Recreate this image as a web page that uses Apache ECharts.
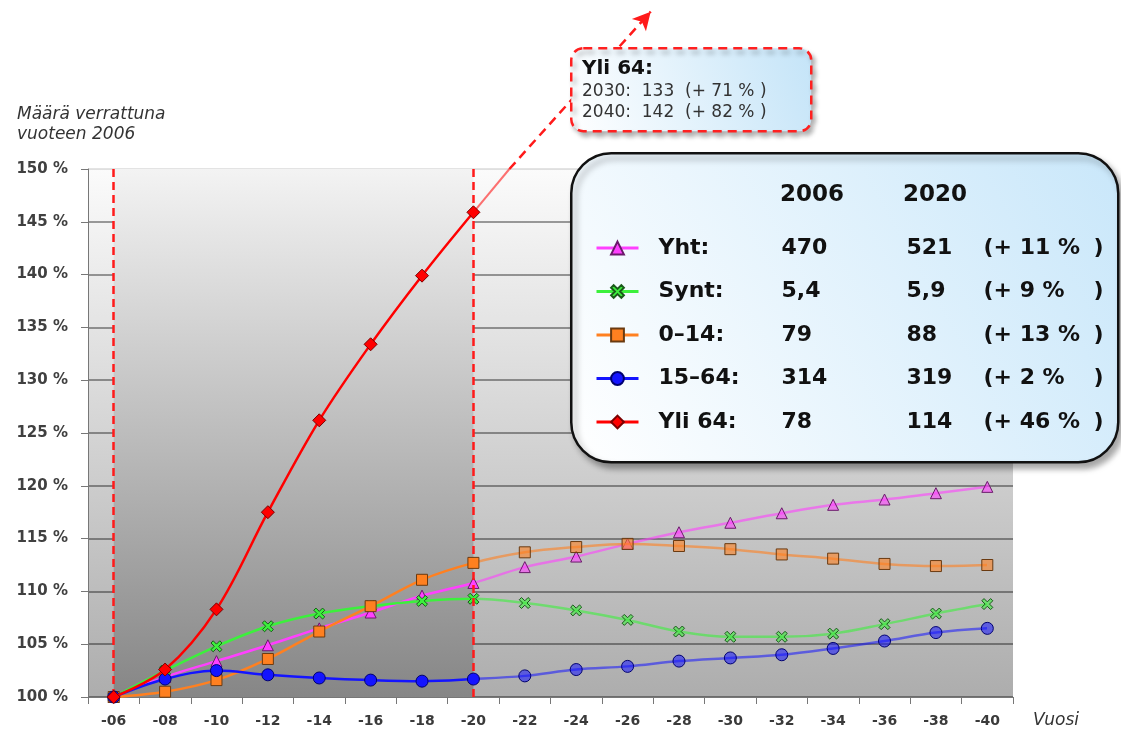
<!DOCTYPE html>
<html><head><meta charset="utf-8">
<script src="https://cdn.jsdelivr.net/npm/echarts@6/dist/echarts.min.js"></script>
<style>html,body{margin:0;padding:0;background:#fff}#c{width:1121px;height:733px}</style>
</head><body><div id="c"></div>
<script>
// ---- data ----
const categories = ['-06','-08','-10','-12','-14','-16','-18','-20','-22','-24','-26','-28','-30','-32','-34','-36','-38','-40'];
const seriesNames = ['Yht:', 'Synt:', '0\u201314:', '15\u201364:', 'Yli 64:'];
const yht       = [100, 101.9, 103.4, 104.9, 106.5, 108.0, 109.6, 110.8, 112.3, 113.3, 114.5, 115.6, 116.5, 117.4, 118.2, 118.7, 119.3, 119.9];
const synt      = [100, 102.5, 104.8, 106.7, 107.9, 108.6, 109.1, 109.3, 108.9, 108.2, 107.3, 106.2, 105.7, 105.7, 106.0, 106.9, 107.9, 108.8];
const age0to14  = [100, 100.5, 101.6, 103.6, 106.2, 108.6, 111.1, 112.7, 113.7, 114.2, 114.5, 114.3, 114.0, 113.5, 113.1, 112.6, 112.4, 112.5];
const age15to64 = [100, 101.7, 102.5, 102.1, 101.8, 101.6, 101.5, 101.7, 102.0, 102.6, 102.9, 103.4, 103.7, 104.0, 104.6, 105.3, 106.1, 106.5];
const over64    = [100, 102.6, 108.3, 117.5, 126.2, 133.4, 139.9, 145.9];
const yTickLabels = ['100 %','105 %','110 %','115 %','120 %','125 %','130 %','135 %','140 %','145 %','150 %'];
const histStart = '-06', histEnd = '-20';
const lastHistIndex = 7;
const headerYears = ['2006', '2020'];
const values2006 = ['470', '5,4', '79', '314', '78'];
const values2020 = ['521', '5,9', '88', '319', '114'];
const changePct  = ['11', '9', '13', '2', '46'];
const noteTitle = 'Yli 64:';
const noteLines = ['2030:  133  (+ 71 % )', '2040:  142  (+ 82 % )'];
// over-64 trend continuation (x in years since 2000, value in %)
const arrowFaded  = [[20, 145.9], [21.4, 150]];
const arrowDashed = [[21.4, 150], [26.9, 164.9]];

// ---- styles ----
const FONT = 'DejaVu Sans';
const full  = ['#ff40ff', '#3cf03c', '#ff8020', '#1414ff', '#ff0000'];
const faded = ['rgba(255,64,255,0.6)', 'rgba(60,240,60,0.6)', 'rgba(255,128,32,0.6)', 'rgba(20,20,255,0.55)'];
const borders = ['#6a1a6a', '#1a5a1a', '#6a3a10', '#000070', '#7a0000'];
const xPath = 'path://M2,0 L5,3 L8,0 L10,2 L7,5 L10,8 L8,10 L5,7 L2,10 L0,8 L3,5 L0,2 Z';
const symbols = ['triangle', xPath, 'rect', 'circle', 'diamond'];
const symSizes = [11, 11, 11, 12, 13];
const dataSets = [yht, synt, age0to14, age15to64, over64];

const chart = echarts.init(document.getElementById('c'));

const mainSeries = dataSets.map((d, i) => ({
  name: seriesNames[i], type: 'line', data: d, smooth: 0.35,
  symbol: symbols[i], symbolSize: symSizes[i], showSymbol: true,
  z: 3 + i,
  lineStyle: i === 4 ? { width: 2.5, color: full[4] } : { width: 2.5 },
  itemStyle: { color: full[i], borderColor: borders[i], borderWidth: 1 },
  emphasis: { disabled: true }
}));

const bold = { fontFamily: FONT, fontWeight: 'bold', fontSize: 22, color: '#111', lineHeight: 26 };

const option = {
  animation: false,
  color: full,
  textStyle: { fontFamily: FONT },
  title: {
    text: 'Määrä verrattuna\nvuoteen 2006', left: 12, top: 100,
    textStyle: { fontFamily: FONT, fontStyle: 'italic', fontWeight: 'normal', fontSize: 17, color: '#333', lineHeight: 20 }
  },
  grid: {
    left: 88, right: 108, top: 169, bottom: 36, show: true, borderWidth: 0,
    backgroundColor: { type: 'linear', x: 0, y: 0, x2: 0, y2: 1,
      colorStops: [{ offset: 0, color: '#fbfbfb' }, { offset: 1, color: '#adadad' }] }
  },
  xAxis: [{
    type: 'category', data: categories, boundaryGap: true,
    name: 'Vuosi', nameLocation: 'end', nameGap: 20,
    nameTextStyle: { fontFamily: FONT, fontStyle: 'italic', fontSize: 17, color: '#333', verticalAlign: 'top', padding: [15, 0, 0, 0] },
    axisLine: { show: true, lineStyle: { color: '#777', width: 1 } },
    axisTick: { show: true, length: 7, lineStyle: { color: '#777' } },
    axisLabel: { margin: 17, fontFamily: FONT, fontWeight: 'bold', fontSize: 14, color: '#3a3a3a' },
    splitLine: { show: false }
  }, {
    type: 'value', min: 5, max: 41, show: false
  }],
  yAxis: {
    type: 'value', min: 100, max: 150, interval: 5,
    axisLine: { show: true, lineStyle: { color: '#777', width: 1 } },
    axisTick: { show: true, length: 7, lineStyle: { color: '#777' } },
    axisLabel: { margin: 20, fontFamily: FONT, fontWeight: 'bold', fontSize: 15, color: '#404040',
      formatter: (v) => yTickLabels[Math.round((v - 100) / 5)] },
    splitLine: { show: true, lineStyle: { width: 1.5,
      color: ['rgba(0,0,0,0.5)','rgba(0,0,0,0.5)','rgba(0,0,0,0.5)','rgba(0,0,0,0.5)','rgba(0,0,0,0.5)','rgba(0,0,0,0.5)','rgba(0,0,0,0.5)','rgba(0,0,0,0.5)','rgba(0,0,0,0.5)','rgba(0,0,0,0.5)','rgba(0,0,0,0.15)'] } }
  },
  visualMap: [0, 1, 2, 3].map(i => ({
    type: 'piecewise', show: false, seriesIndex: i, dimension: 0,
    pieces: [{ gte: 0, lte: lastHistIndex, color: full[i] }, { gt: lastHistIndex, lte: categories.length - 1, color: faded[i] }]
  })),
  legend: {
    data: seriesNames, orient: 'vertical', left: 595, top: 237, padding: 0,
    itemGap: 21.5, itemWidth: 42, itemHeight: 16, z: 200, selectedMode: false,
    lineStyle: { width: 3 },
    formatter: (name) => {
      const i = seriesNames.indexOf(name);
      return '{n|' + name + '}{a|' + values2006[i] + '}{b|' + values2020[i] + '}{p|(+ ' + changePct[i] + ' %}{q|)}';
    },
    textStyle: {
      padding: [0, 0, 0, 15],
      rich: {
        n: Object.assign({ width: 123 }, bold),
        a: Object.assign({ width: 125 }, bold),
        b: Object.assign({ width: 77 }, bold),
        p: Object.assign({ width: 110 }, bold),
        q: Object.assign({}, bold)
      }
    }
  },
  graphic: {
    elements: [
      { type: 'rect', left: 570, top: 152, z: 100, silent: true,
        shape: { width: 547, height: 309, r: 40 },
        style: { fill: { type: 'linear', x: 1, y: 0, x2: 0, y2: 1,
            colorStops: [{ offset: 0, color: '#c9e7fa' }, { offset: 1, color: '#ffffff' }] },
          stroke: '#111', lineWidth: 2.5,
          shadowBlur: 6, shadowOffsetX: 4, shadowOffsetY: 5, shadowColor: 'rgba(0,0,0,0.35)' } },
      { type: 'text', left: 780, top: 184, z: 101, silent: true,
        style: { text: headerYears[0], fontFamily: FONT, fontWeight: 'bold', fontSize: 23, fill: '#111' } },
      { type: 'text', left: 903, top: 184, z: 101, silent: true,
        style: { text: headerYears[1], fontFamily: FONT, fontWeight: 'bold', fontSize: 23, fill: '#111' } },
      { type: 'rect', left: 570, top: 47, z: 100, silent: true,
        shape: { width: 240, height: 83, r: 12 },
        style: { fill: { type: 'linear', x: 1, y: 0, x2: 0, y2: 1,
            colorStops: [{ offset: 0, color: '#c4e4f8' }, { offset: 1, color: '#ffffff' }] },
          stroke: '#ff2020', lineWidth: 2.5, lineDash: [9, 6],
          shadowBlur: 5, shadowOffsetX: 3, shadowOffsetY: 4, shadowColor: 'rgba(0,0,0,0.3)' } },
      { type: 'text', left: 582, top: 59, z: 101, silent: true,
        style: { text: noteTitle, fontFamily: FONT, fontWeight: 'bold', fontSize: 20, fill: '#111' } },
      { type: 'text', left: 582, top: 83, z: 101, silent: true,
        style: { text: noteLines[0], fontFamily: FONT, fontSize: 17, fill: '#333' } },
      { type: 'text', left: 582, top: 104, z: 101, silent: true,
        style: { text: noteLines[1], fontFamily: FONT, fontSize: 17, fill: '#333' } }
    ]
  },
  series: mainSeries.concat([
    { type: 'line', xAxisIndex: 1, data: arrowFaded, symbol: 'none', z: 2, clip: false,
      lineStyle: { color: 'rgba(255,0,0,0.55)', width: 2 }, emphasis: { disabled: true } },
    { type: 'line', xAxisIndex: 1, z: 2, clip: false, symbol: 'none', showSymbol: true,
      data: [arrowDashed[0], { value: arrowDashed[1], symbol: 'arrow', symbolSize: [14, 18], symbolRotate: -41 }],
      lineStyle: { color: '#ff1a1a', width: 2.5, type: [9, 6] },
      itemStyle: { color: '#ff1a1a' }, emphasis: { disabled: true } },
    { type: 'line', data: [], z: 1, silent: true,
      markArea: { silent: true,
        itemStyle: { color: { type: 'linear', x: 0, y: 0, x2: 0, y2: 1,
          colorStops: [{ offset: 0, color: '#f3f3f3' }, { offset: 1, color: '#868686' }] } },
        data: [[{ xAxis: histStart }, { xAxis: histEnd }]] } },
    { type: 'line', data: [], z: 20, silent: true,
      markLine: { silent: true, symbol: 'none', label: { show: false },
        lineStyle: { color: '#ff1a1a', width: 2.5, type: [8, 5] },
        data: [{ xAxis: histStart }, { xAxis: histEnd }] } }
  ])
};
chart.setOption(option);
</script>
</body></html>
